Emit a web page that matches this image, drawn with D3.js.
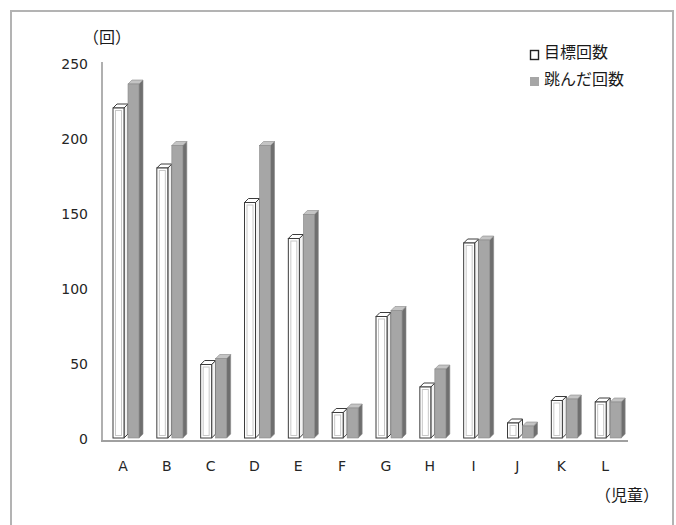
<!DOCTYPE html>
<html>
<head>
<meta charset="utf-8">
<script src="https://cdn.jsdelivr.net/npm/d3@7"></script>
<style>
  html, body { margin: 0; padding: 0; background: #fff; }
  svg { display: block; }
  .num { font-family: "DejaVu Sans", Verdana, sans-serif; font-size: 14px; fill: #262626; }
  .jp { font-family: "Noto Sans CJK JP", sans-serif; font-size: 16px; fill: #1a1a1a; }
</style>
</head>
<body>
<svg id="chart" width="676" height="525"></svg>
<script>
// Children (児童) and their jump-rope counts
const categories = ["A", "B", "C", "D", "E", "F", "G", "H", "I", "J", "K", "L"];
const targetCounts = [220, 180, 49, 157, 133, 17, 81, 34, 130, 10, 25, 24];   // 目標回数
const jumpedCounts = [236, 195, 53, 195, 149, 20, 85, 46, 132, 8, 26, 24];    // 跳んだ回数
const seriesNames = ["目標回数", "跳んだ回数"];
const yTicks = [0, 50, 100, 150, 200, 250];

const svg = d3.select("#chart");

// outer chart frame
svg.append("rect")
  .attr("x", 11).attr("y", 11).attr("width", 662).attr("height", 540)
  .attr("fill", "none").attr("stroke", "#b3b3b3").attr("stroke-width", 2);

const x = d3.scaleBand().domain(categories).range([102, 628]).padding(0);
const inner = d3.scaleBand().domain(seriesNames).range([11, 41]).padding(0);
const y = d3.scaleLinear().domain([0, 250]).range([438, 63]);

const frontW = 11, dx = 4, dy = -4;

// value axis line
svg.append("line")
  .attr("x1", 102).attr("x2", 102).attr("y1", 62).attr("y2", 441)
  .attr("stroke", "#b0b0b0").attr("stroke-width", 2);

// floor edge
svg.append("line")
  .attr("x1", 101).attr("x2", 628).attr("y1", 441).attr("y2", 441)
  .attr("stroke", "#a0a0a0").attr("stroke-width", 2);

// y tick labels
svg.append("g").selectAll("text").data(yTicks).join("text")
  .attr("class", "num")
  .attr("x", 88).attr("y", d => y(d) + 2)
  .attr("text-anchor", "end").attr("dominant-baseline", "middle")
  .text(d => d);

// x labels
svg.append("g").selectAll("text").data(categories).join("text")
  .attr("class", "num")
  .attr("x", d => x(d) + x.bandwidth() / 2 - 1).attr("y", 467)
  .attr("text-anchor", "middle").attr("dominant-baseline", "middle")
  .text(d => d);

// one 3D column: front face, right side and top cap
function column(g, fx, val, style) {
  const top = y(val), bot = y(0);
  const side = [[fx + frontW, top], [fx + frontW + dx, top + dy], [fx + frontW + dx, bot + dy], [fx + frontW, bot]];
  const cap = [[fx, top], [fx + dx, top + dy], [fx + frontW + dx, top + dy], [fx + frontW, top]];
  g.append("polygon").attr("points", side.join(" "))
    .attr("fill", style.side).attr("stroke", style.stroke).attr("stroke-width", style.sw);
  g.append("polygon").attr("points", cap.join(" "))
    .attr("fill", style.top).attr("stroke", style.stroke).attr("stroke-width", style.sw);
  g.append("rect").attr("x", fx).attr("y", top).attr("width", frontW).attr("height", bot - top)
    .attr("fill", style.front).attr("stroke", style.stroke).attr("stroke-width", style.sw);
  if (style.innerLine) {
    g.append("rect").attr("x", fx + 2.5).attr("y", top + 2.5)
      .attr("width", frontW - 5).attr("height", Math.max(0, bot - top - 5))
      .attr("fill", "none").attr("stroke", "#c8c8c8").attr("stroke-width", 1);
  }
}

const whiteStyle = { front: "#ffffff", side: "#f2f2f2", top: "#ffffff", stroke: "#3c3c3c", sw: 1, innerLine: true };
const grayStyle = { front: "#a6a6a6", side: "#6f6f6f", top: "#c4c4c4", stroke: "#8a8a8a", sw: 0.6, innerLine: false };

const bars = svg.append("g");
categories.forEach((c, i) => {
  column(bars, x(c) + inner(seriesNames[0]), targetCounts[i], whiteStyle);
  column(bars, x(c) + inner(seriesNames[1]), jumpedCounts[i], grayStyle);
});

// axis titles
svg.append("text").attr("class", "jp").attr("x", 107).attr("y", 39)
  .attr("text-anchor", "middle").attr("dominant-baseline", "middle").text("（回）");
svg.append("text").attr("class", "jp").attr("x", 627).attr("y", 497)
  .attr("text-anchor", "middle").attr("dominant-baseline", "middle").text("（児童）");

// legend
const legend = svg.append("g");
legend.append("rect").attr("x", 530.5).attr("y", 50.5).attr("width", 8).attr("height", 9)
  .attr("fill", "#fff").attr("stroke", "#222").attr("stroke-width", 1.4);
legend.append("rect").attr("x", 530).attr("y", 77).attr("width", 9).attr("height", 9)
  .attr("fill", "#a6a6a6");
legend.append("text").attr("class", "jp").attr("x", 544).attr("y", 54)
  .attr("dominant-baseline", "middle").text(seriesNames[0]);
legend.append("text").attr("class", "jp").attr("x", 544).attr("y", 81)
  .attr("dominant-baseline", "middle").text(seriesNames[1]);
</script>
</body>
</html>
